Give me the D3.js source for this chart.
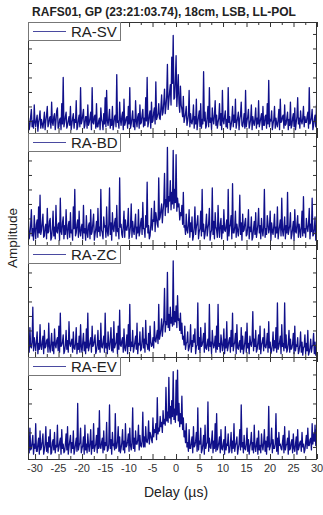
<!DOCTYPE html>
<html>
<head>
<meta charset="utf-8">
<script src="https://cdn.jsdelivr.net/npm/d3@7"></script>
<style>
  html, body { margin: 0; padding: 0; background: #fff; }
  svg { display: block; font-family: "Liberation Sans", Arial, sans-serif; }
</style>
</head>
<body>
<svg id="chart" width="323" height="515"></svg>
<script>
// Delay grid (µs): first sample and spacing
const delayStart = -31.4;
const delayStep = 0.154;

const baselines = ["RA-SV", "RA-BD", "RA-ZC", "RA-EV"];

const ampSV = [
  1.2,0.4,0.7,1.3,1.8,0.6,1.0,0.5,2.1,0.9,0.6,1.1,1.4,0.3,0.9,1.2,1.7,0.5,1.1,0.8,
  0.5,1.0,1.6,0.4,1.0,1.4,2.0,0.6,0.8,1.2,1.3,0.5,2.3,0.9,0.7,1.3,1.5,0.4,1.0,1.7,
  1.9,0.5,0.6,1.1,1.2,0.4,2.2,0.8,4.0,0.6,0.9,1.3,1.6,0.5,0.7,1.0,1.3,0.7,2.0,0.4,
  0.8,1.2,1.5,0.5,1.1,0.9,2.4,0.4,0.6,1.1,1.4,0.6,3.3,0.8,1.0,1.4,1.8,0.5,0.7,1.3,
  1.3,0.5,2.1,0.7,0.9,1.2,1.6,0.4,3.3,0.9,0.8,1.3,1.4,0.5,2.2,0.6,0.6,1.0,1.2,0.4,
  1.9,1.1,0.9,0.4,1.5,0.8,2.6,0.6,3.1,1.0,0.7,1.2,1.8,0.5,1.1,0.7,2.0,0.4,0.8,1.3,
  1.4,0.6,4.2,0.9,1.0,0.5,2.3,1.1,0.7,1.3,1.6,0.4,2.5,0.7,0.9,1.2,1.3,0.5,2.0,0.8,
  3.3,0.5,0.8,1.2,1.7,0.6,1.1,0.4,2.4,1.0,0.6,1.3,1.5,0.5,2.1,0.8,0.9,1.4,1.8,0.6,
  1.2,0.7,2.6,1.0,4.0,0.6,0.9,1.4,1.7,0.5,2.3,0.9,1.0,1.6,1.9,0.8,3.7,1.1,1.3,1.5,
  2.2,1.2,1.1,1.9,2.8,1.4,1.6,2.3,3.2,1.5,2.0,2.7,4.9,1.8,2.4,3.0,3.5,2.1,5.4,3.6,
  6.9,2.5,2.6,3.8,5.5,2.0,3.0,4.2,2.2,1.6,3.4,2.1,1.8,1.3,2.7,0.9,1.2,1.5,2.0,0.7,
  1.0,1.4,3.1,0.6,1.5,0.9,0.8,1.2,2.1,0.5,1.3,0.8,2.5,0.4,0.9,1.3,1.7,0.6,2.2,0.5,
  1.1,0.8,4.4,1.0,1.6,0.5,0.7,1.3,2.0,0.6,3.3,0.9,1.2,0.4,1.9,1.1,0.8,1.4,2.4,0.7,
  1.4,0.5,0.9,1.2,2.2,0.7,1.5,0.4,3.1,1.0,0.8,1.3,1.7,0.6,1.1,0.5,3.3,0.9,1.3,0.4,
  0.7,1.1,2.0,0.6,1.4,0.9,2.5,0.5,0.9,1.2,1.6,0.4,1.1,1.4,2.3,0.7,0.6,1.0,1.5,0.5,
  3.1,0.6,1.0,1.3,1.8,0.5,0.8,1.1,2.1,0.4,1.3,0.9,0.7,1.2,1.9,0.5,1.2,0.8,2.4,0.6,
  0.9,1.2,1.5,0.4,2.0,0.7,0.7,1.3,1.4,0.5,2.2,0.8,3.8,0.6,1.1,1.0,1.7,0.4,0.8,1.1,
  2.0,0.5,1.2,0.8,0.6,1.1,1.8,0.4,2.5,0.9,1.0,1.3,1.4,0.5,2.1,0.7,0.8,1.2,1.6,0.4,
  1.1,0.7,2.3,0.5,0.7,1.2,1.5,0.6,1.9,0.4,0.9,1.3,2.6,0.8,1.2,0.5,1.7,1.0,0.8,1.2,
  2.0,0.6,1.3,0.9,0.9,1.3,1.6,0.5,3.3,0.8,1.0,1.2,1.8,0.4,0.7,1.1,1.4,0.6,2.1,0.9
];

const ampBD = [
  1.8,0.6,0.9,1.5,2.6,0.8,1.3,0.5,2.2,1.2,0.6,1.6,1.9,0.7,2.8,1.0,3.6,0.9,1.2,1.7,
  2.3,0.7,0.8,1.4,1.6,0.6,2.7,1.0,1.1,1.8,2.0,0.5,0.7,1.3,2.5,0.8,1.4,0.6,2.9,1.1,
  1.0,1.6,1.7,0.5,3.4,1.1,0.9,1.7,2.1,0.6,1.5,0.9,2.6,1.2,0.6,1.5,1.8,0.7,2.4,1.0,
  1.2,0.5,2.8,1.3,4.0,0.8,1.0,1.6,1.9,0.7,2.5,1.1,0.8,1.4,1.6,0.6,2.9,1.0,1.3,0.5,
  2.2,1.0,0.7,1.5,1.7,0.6,2.6,0.9,1.1,1.7,2.3,0.5,0.9,1.3,1.8,0.7,2.7,1.1,1.4,0.8,
  4.0,1.2,1.0,0.6,2.1,1.4,1.5,0.7,2.8,1.1,0.8,1.6,4.1,0.9,1.7,0.5,2.4,1.3,1.1,1.7,
  2.0,0.8,2.9,1.1,1.3,0.6,4.8,1.4,1.6,0.9,0.7,1.5,2.5,0.7,1.9,1.2,1.2,1.6,2.7,0.6,
  1.0,1.5,3.0,0.7,1.8,1.2,0.9,1.6,2.3,0.6,1.4,1.0,2.6,0.8,1.1,1.7,2.0,0.9,3.1,1.3,
  1.3,0.7,2.2,1.4,4.5,1.0,1.5,0.6,0.8,1.5,2.7,1.2,1.9,1.8,3.2,1.1,2.4,2.0,1.6,1.4,
  4.8,1.9,2.1,2.6,3.0,1.7,2.5,3.1,5.1,2.2,3.3,2.8,6.9,2.4,3.5,3.2,4.6,2.6,3.8,3.0,
  6.7,2.7,4.0,3.1,6.4,2.5,3.4,2.8,3.0,1.9,2.4,2.2,2.9,1.6,3.8,1.4,1.5,0.9,2.3,1.2,
  1.0,1.6,2.6,0.7,1.7,1.1,2.1,0.5,0.8,1.4,2.8,0.9,1.4,1.7,2.2,0.6,1.1,1.3,2.5,0.8,
  4.0,1.1,1.6,0.6,0.9,1.5,2.3,0.8,1.3,1.7,2.7,0.5,1.0,1.2,4.1,0.9,1.8,0.6,2.4,1.4,
  1.2,0.7,2.9,1.3,0.7,1.6,2.0,0.6,1.5,1.0,2.6,1.2,1.1,1.5,1.9,0.5,4.0,0.8,1.4,1.6,
  2.2,0.6,4.4,1.0,1.0,1.4,2.5,0.7,1.6,1.2,0.8,1.5,3.6,0.9,1.7,0.5,2.3,1.1,1.2,1.7,
  2.0,0.8,0.9,1.5,2.6,0.6,1.4,1.1,2.1,0.5,0.7,1.3,1.8,0.9,2.4,0.7,1.1,1.6,2.7,1.0,
  1.5,0.6,2.0,1.2,0.8,1.4,4.0,0.7,1.3,0.9,2.2,1.6,1.0,1.3,2.5,0.5,1.7,1.1,0.9,1.5,
  2.3,0.7,1.4,1.0,2.8,0.6,1.1,1.5,1.9,0.8,3.4,1.2,0.8,1.4,2.1,0.6,1.5,1.0,3.8,0.9,
  1.2,1.5,2.4,0.6,0.9,1.3,1.8,0.5,2.6,1.1,1.0,1.6,2.2,0.7,1.6,1.2,0.7,1.4,2.5,0.8,
  3.5,1.0,1.3,0.7,2.0,1.4,1.1,1.6,2.7,0.6,1.6,1.1,3.4,0.8,0.9,1.3,2.1,0.5,1.5,1.2
];

const ampZC = [
  1.3,0.5,2.2,0.9,0.8,1.2,3.6,0.6,1.5,1.0,0.6,1.3,1.9,0.4,1.1,0.7,2.4,0.9,0.7,1.2,
  1.6,0.4,2.0,0.8,0.9,1.3,1.4,0.5,2.5,0.9,0.5,1.1,1.8,0.6,1.2,0.4,2.1,1.0,0.8,1.3,
  1.5,0.6,2.3,0.5,3.2,0.9,1.0,1.2,1.7,0.4,0.6,1.0,2.0,0.7,1.3,0.5,2.6,1.1,0.9,1.2,
  1.4,0.5,1.9,0.8,0.7,1.1,2.2,0.4,1.1,0.7,1.6,0.5,2.4,0.9,0.5,1.2,1.8,0.6,1.2,0.4,
  2.1,0.8,3.2,0.6,0.9,1.2,1.5,0.5,2.3,0.9,1.0,1.3,1.7,0.4,0.6,1.0,2.0,0.7,1.3,0.5,
  2.5,0.9,0.8,1.2,1.6,0.5,3.2,0.8,1.1,0.4,1.9,1.0,0.7,1.3,2.2,0.6,1.4,0.5,2.6,0.8,
  1.0,1.2,1.8,0.4,2.3,0.7,3.4,1.0,0.9,1.3,1.5,0.5,2.1,0.8,0.6,1.1,1.7,0.4,2.4,0.9,
  3.8,0.6,1.2,0.9,2.0,0.5,0.8,1.2,1.6,0.7,2.5,0.4,1.1,1.0,1.9,0.6,0.7,1.3,2.2,0.8,
  1.4,0.5,2.7,1.1,1.0,0.7,1.8,0.6,2.3,1.2,0.9,1.0,1.5,0.8,2.6,1.3,1.2,1.6,2.0,1.1,
  3.8,1.4,1.7,2.1,2.8,1.6,2.2,2.7,4.9,1.9,2.6,2.4,6.0,2.2,3.1,2.0,3.6,2.5,2.9,2.3,
  6.8,2.4,3.3,2.6,3.7,2.2,4.4,2.7,2.8,2.0,3.2,1.8,2.5,1.4,1.6,1.0,2.3,0.7,1.1,1.2,
  1.9,0.6,0.8,1.1,2.4,0.5,1.3,0.9,1.7,1.2,2.1,0.4,0.9,1.0,3.9,0.7,1.5,0.5,2.2,0.9,
  1.0,1.3,1.8,0.5,2.5,0.8,0.7,1.1,1.4,0.6,3.8,0.9,1.2,0.4,2.0,1.2,0.8,1.0,1.6,0.5,
  2.3,0.7,3.8,0.9,1.1,0.5,1.7,1.2,0.6,1.0,2.1,0.4,1.4,0.8,2.6,0.6,0.9,1.3,1.5,0.5,
  2.0,0.9,3.2,0.6,1.0,1.2,1.8,0.4,2.4,0.8,0.7,1.1,1.3,0.5,2.2,0.7,1.6,0.4,0.8,1.2,
  1.9,0.5,2.5,0.8,1.1,0.4,1.6,1.1,0.9,1.3,3.3,0.6,1.4,0.9,2.0,0.5,0.7,1.2,1.7,0.7,
  2.3,0.4,1.0,1.2,1.5,0.6,2.1,0.9,0.8,1.1,1.8,0.5,2.6,0.8,1.2,0.4,0.6,1.0,1.9,0.6,
  1.3,0.8,2.2,0.5,3.9,0.7,0.9,1.2,1.6,0.4,2.4,0.9,1.1,0.6,3.9,0.8,1.7,0.5,0.7,1.1,
  2.0,0.5,1.4,0.7,0.8,1.1,1.8,0.4,2.3,0.6,1.0,0.9,1.5,0.4,0.6,1.0,1.9,0.5,1.2,0.3,
  0.8,0.9,1.7,0.4,1.1,0.6,2.0,0.3,0.5,0.8,1.4,0.5,0.9,1.0,1.8,0.4,1.2,0.3,0.7,0.6
];

const ampEV = [
  1.5,0.6,2.3,0.8,0.9,1.3,1.8,0.5,1.2,0.9,2.6,0.7,0.7,1.2,1.6,0.5,2.1,0.8,1.0,1.4,
  1.9,0.5,0.8,1.2,2.4,0.7,1.3,0.6,1.7,1.0,2.2,0.5,0.6,1.3,1.5,0.8,2.0,0.6,1.1,1.0,
  2.5,0.7,0.9,1.3,1.6,0.5,2.2,0.9,1.2,0.6,0.7,1.2,1.9,0.8,2.4,0.5,1.0,1.4,1.8,0.6,
  1.3,0.9,2.1,0.5,0.8,1.2,1.6,0.7,4.0,0.8,1.1,1.3,2.3,0.6,0.9,1.1,1.7,0.5,2.5,0.8,
  1.2,0.6,1.9,1.1,0.7,1.3,2.2,0.5,1.4,0.9,2.6,0.7,1.0,1.2,1.8,0.6,2.3,0.9,3.5,1.0,
  0.9,1.3,1.6,0.6,2.1,0.8,1.3,1.1,2.7,0.7,0.8,1.2,3.9,0.9,1.5,0.5,2.0,1.1,1.2,0.8,
  3.3,0.9,1.0,1.4,2.4,0.7,1.7,0.6,0.9,1.3,2.2,0.8,1.4,0.6,2.6,1.0,1.1,1.4,1.9,0.7,
  2.3,1.1,0.8,1.3,3.7,0.9,1.6,0.7,2.1,1.2,1.2,1.5,2.5,0.8,1.8,1.1,1.0,1.4,3.4,1.0,
  1.7,1.0,2.4,1.4,1.3,1.6,2.8,1.2,2.0,1.8,1.5,1.3,3.0,1.7,2.2,2.0,2.6,1.5,4.4,1.9,
  2.3,2.1,3.1,2.4,2.7,2.0,3.5,2.6,2.9,2.5,5.1,2.8,3.4,2.7,5.8,3.0,3.8,2.6,4.2,3.1,
  6.2,2.9,3.6,2.7,5.6,3.2,6.3,2.8,4.0,2.4,3.3,2.6,4.5,2.2,3.0,1.7,2.1,1.3,2.6,1.0,
  1.3,0.7,2.2,0.9,0.9,1.3,1.7,0.6,2.4,1.0,1.1,1.4,2.0,0.7,3.7,0.8,1.4,1.2,2.3,0.6,
  0.8,1.2,1.8,0.5,2.5,0.9,1.2,1.3,4.1,0.7,1.6,1.0,0.9,1.4,2.1,0.6,1.4,0.9,2.6,0.7,
  3.3,0.8,1.0,1.3,1.7,0.6,2.2,0.9,0.8,1.2,1.5,0.5,2.4,0.8,1.2,1.1,1.9,0.6,0.7,1.2,
  2.0,0.6,1.4,0.9,2.6,0.7,1.1,1.3,1.7,0.5,0.9,1.2,2.2,0.8,3.9,1.0,1.3,0.6,1.8,0.9,
  0.8,1.2,2.3,0.7,1.5,0.5,1.0,1.3,2.0,0.8,1.3,0.6,2.5,1.0,0.7,1.2,1.6,0.5,2.1,0.8,
  1.1,0.6,1.9,1.1,0.8,1.3,2.2,0.7,1.4,0.5,1.7,1.0,3.8,0.8,1.0,1.3,2.3,0.6,1.5,0.9,
  0.9,1.2,3.3,0.7,1.6,0.5,2.0,1.1,1.2,0.9,0.8,1.3,1.8,0.6,2.4,0.8,1.1,1.2,1.6,0.5,
  2.1,0.8,0.9,1.3,1.5,0.6,1.9,0.9,0.7,1.2,1.7,0.5,2.2,0.8,1.0,1.3,1.4,0.7,2.0,1.0,
  1.2,0.6,0.8,1.3,1.8,0.9,2.3,1.1,1.1,1.5,1.6,0.8,2.6,1.2,1.9,1.4,2.5,1.1,2.2,1.3
];

const series = [ampSV, ampBD, ampZC, ampEV];

const xTicksMajor = [-30, -25, -20, -15, -10, -5, 0, 5, 10, 15, 20, 25, 30];
const xTicksMinor = [-27.5, -22.5, -17.5, -12.5, -7.5, -2.5, 2.5, 7.5, 12.5, 17.5, 22.5, 27.5];
const yTicks = [1, 2, 3, 4, 5, 6, 7];

const titleText = "RAFS01, GP (23:21:03.74), 18cm, LSB, LL-POL";
const xLabel = "Delay (\u00b5s)";
const yLabel = "Amplitude";

// ---- layout ----
const left = 28, right = 317;
const panels = [
  { top: 22, bottom: 133 },
  { top: 133, bottom: 245 },
  { top: 245, bottom: 357 },
  { top: 357, bottom: 459 }
];
const pxPerUnit = 14.5;
const yMin = 0.17;
const lineColor = "#10108a";
const frameColor = "#333";

const svg = d3.select("#chart");

const x = d3.scaleLinear().domain([-31.5, 30.0]).range([left, right]);

svg.append("text")
  .attr("x", 164).attr("y", 16)
  .attr("text-anchor", "middle")
  .attr("font-size", 12).attr("font-weight", "bold")
  .attr("fill", "#222")
  .text(titleText);

const defs = svg.append("defs");

panels.forEach((p, k) => {
  const vals = series[k];
  const y = d3.scaleLinear()
    .domain([yMin, yMin + (p.bottom - p.top) / pxPerUnit])
    .range([p.bottom, p.top]);

  defs.append("clipPath").attr("id", "clip" + k)
    .append("rect")
    .attr("x", left).attr("y", p.top)
    .attr("width", right - left).attr("height", p.bottom - p.top);

  const g = svg.append("g");

  const line = d3.line()
    .x((d, i) => x(delayStart + i * delayStep))
    .y(d => y(d));

  g.append("path")
    .datum(vals)
    .attr("clip-path", "url(#clip" + k + ")")
    .attr("fill", "none")
    .attr("stroke", lineColor)
    .attr("stroke-width", 1.3)
    .attr("stroke-linejoin", "round")
    .attr("d", line);

  // ticks on all four sides, pointing inward
  const axB = d3.axisBottom(x).tickValues(xTicksMajor).tickSize(-5).tickFormat("");
  const axBm = d3.axisBottom(x).tickValues(xTicksMinor).tickSize(-3).tickFormat("");
  const axT = d3.axisTop(x).tickValues(xTicksMajor).tickSize(-5).tickFormat("");
  const axTm = d3.axisTop(x).tickValues(xTicksMinor).tickSize(-3).tickFormat("");
  const axL = d3.axisLeft(y).tickValues(yTicks).tickSize(-4).tickFormat("");
  const axR = d3.axisRight(y).tickValues(yTicks).tickSize(-4).tickFormat("");

  const tickG = [
    g.append("g").attr("transform", `translate(0,${p.bottom})`).call(axB),
    g.append("g").attr("transform", `translate(0,${p.bottom})`).call(axBm),
    g.append("g").attr("transform", `translate(0,${p.top})`).call(axT),
    g.append("g").attr("transform", `translate(0,${p.top})`).call(axTm),
    g.append("g").attr("transform", `translate(${left},0)`).call(axL),
    g.append("g").attr("transform", `translate(${right},0)`).call(axR)
  ];
  tickG.forEach(t => {
    t.select(".domain").remove();
    t.selectAll("line").attr("stroke", frameColor).attr("stroke-width", 1);
  });

  // frame
  g.append("rect")
    .attr("x", left + 0.5).attr("y", p.top + 0.5)
    .attr("width", right - left - 1).attr("height", p.bottom - p.top)
    .attr("fill", "none").attr("stroke", frameColor).attr("stroke-width", 1);

  // legend
  const lg = g.append("g");
  lg.append("rect")
    .attr("x", left + 0.5).attr("y", p.top + 0.5)
    .attr("width", 92).attr("height", 18)
    .attr("fill", "#fff").attr("stroke", "#777").attr("stroke-width", 1);
  lg.append("line")
    .attr("x1", left + 5).attr("x2", left + 38)
    .attr("y1", p.top + 9.5).attr("y2", p.top + 9.5)
    .attr("stroke", "#4a4aa0").attr("stroke-width", 1.2);
  lg.append("text")
    .attr("x", left + 43).attr("y", p.top + 15)
    .attr("font-size", 15).attr("fill", "#222")
    .text(baselines[k]);
});

// x tick labels under the last panel
const last = panels[panels.length - 1];
svg.append("g").selectAll("text")
  .data(xTicksMajor)
  .join("text")
  .attr("x", d => x(d))
  .attr("y", last.bottom + 13)
  .attr("text-anchor", "middle")
  .attr("font-size", 11).attr("fill", "#333")
  .text(d => d);

svg.append("text")
  .attr("x", x(0)).attr("y", 497)
  .attr("text-anchor", "middle")
  .attr("font-size", 14).attr("fill", "#222")
  .text(xLabel);

svg.append("text")
  .attr("transform", "translate(17,238) rotate(-90)")
  .attr("text-anchor", "middle")
  .attr("font-size", 13.5).attr("fill", "#222")
  .text(yLabel);
</script>
</body>
</html>
